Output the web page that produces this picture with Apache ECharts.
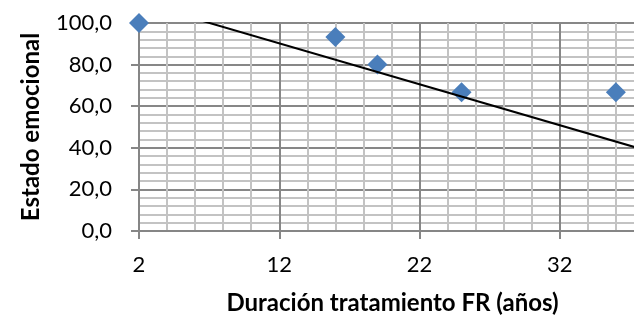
<!DOCTYPE html>
<html>
<head>
<meta charset="utf-8">
<script src="https://cdn.jsdelivr.net/npm/echarts@6/dist/echarts.min.js"></script>
<style>
  html, body { margin: 0; padding: 0; background: #fff; }
  #main { width: 634px; height: 321px; }
</style>
</head>
<body>
<div id="main"></div>
<script>
// puntos (años de tratamiento, estado emocional)
var duracion = [2, 16, 19, 25, 36];
var estado = [100.0, 93.3, 80.0, 66.7, 66.7];

// extremos de la línea de tendencia
var tendX = [2, 42];
var tendY = [109.9, 31.2];

var xTicks = [2, 12, 22, 32];
var yTicks = [0, 20, 40, 60, 80, 100];

var fuente = 'Lato, "Open Sans", sans-serif';

var puntos = duracion.map(function (d, i) { return [d, estado[i]]; });
var tendencia = tendX.map(function (d, i) { return [d, tendY[i]]; });

var myChart = echarts.init(document.getElementById('main'));

var option = {
    animation: false,
    backgroundColor: '#fff',
    grid: {
        left: 139,
        top: 23,
        bottom: 90,
        right: -66,
        outerBoundsMode: 'none',
        containLabel: false
    },
    xAxis: {
        type: 'value',
        min: xTicks[0],
        max: 42,
        interval: 10,
        name: 'Duración tratamiento FR (años)',
        nameLocation: 'middle',
        nameGap: 60,
        nameTextStyle: {
            fontFamily: fuente, fontSize: 24, fontWeight: 'bold', color: '#000',
            padding: [0, 54, 0, 0]
        },
        axisLine: { show: true, onZero: false, lineStyle: { color: '#868686', width: 2 } },
        axisTick: { show: true, inside: false, length: 8, lineStyle: { color: '#868686', width: 2 } },
        axisLabel: {
            margin: 23, fontFamily: fuente, fontSize: 22, color: '#000',
            showMaxLabel: false
        },
        splitLine: { show: true, lineStyle: { color: '#878787', width: 2 } },
        minorTick: { show: false, splitNumber: 5 },
        minorSplitLine: { show: true, lineStyle: { color: '#c3c3c3', width: 2 } }
    },
    yAxis: {
        type: 'value',
        min: yTicks[0],
        max: yTicks[yTicks.length - 1],
        interval: 20,
        name: 'Estado emocional',
        nameLocation: 'middle',
        nameGap: 96,
        nameTextStyle: { fontFamily: fuente, fontSize: 24, fontWeight: 'bold', color: '#000' },
        axisLine: { show: true, lineStyle: { color: '#868686', width: 2 } },
        axisTick: { show: true, inside: false, length: 8, lineStyle: { color: '#868686', width: 2 } },
        axisLabel: {
            margin: 27, fontFamily: fuente, fontSize: 22, color: '#000',
            formatter: function (v) { return v.toFixed(1).replace('.', ','); }
        },
        splitLine: { show: true, lineStyle: { color: '#878787', width: 2 } },
        minorTick: { show: false, splitNumber: 5 },
        minorSplitLine: { show: true, lineStyle: { color: '#c3c3c3', width: 2 } }
    },
    series: [
        {
            type: 'scatter',
            data: puntos,
            symbol: 'diamond',
            symbolSize: 20,
            clip: false,
            itemStyle: { color: '#4a7ebb', opacity: 1 },
            z: 3
        },
        {
            type: 'line',
            data: tendencia,
            showSymbol: false,
            symbol: 'none',
            clip: true,
            lineStyle: { color: '#000', width: 2 },
            z: 4
        }
    ]
};

myChart.setOption(option);
</script>
</body>
</html>
